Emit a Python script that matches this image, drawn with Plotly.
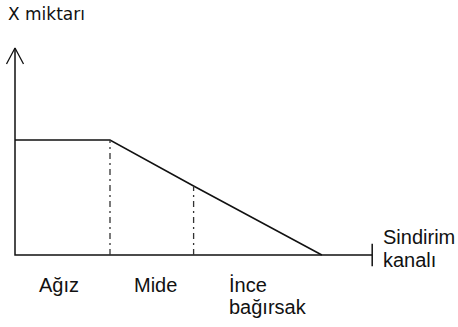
import plotly.graph_objects as go

# canal positions (segment units) and relative amount of substance X
stage_bounds = [0, 1, 1.88, 3.23]
x_amount = [100, 100, 60, 0]
stage_labels = ["Ağız", "Mide", "İnce<br>bağırsak"]
axis_x_end = 3.76
axis_y_end = 180

W, H = 458, 327
PX_X = 95.0     # pixels per canal unit
PX_Y = 1.15     # pixels per amount unit
ORIGIN = (15, 255)

x_rng = [-ORIGIN[0] / PX_X, (W - ORIGIN[0]) / PX_X]
y_rng = [-(H - ORIGIN[1]) / PX_Y, ORIGIN[1] / PX_Y]

ink = "#111111"
font_lbl = dict(family="Liberation Sans, Arial", size=20, color=ink)

fig = go.Figure()

# axes
fig.add_trace(go.Scatter(x=[0, 0, axis_x_end], y=[axis_y_end, 0, 0], mode="lines",
                         line=dict(color=ink, width=1.5), hoverinfo="skip"))
# open arrow head on y axis
aw, ah = 8.5 / PX_X, 16 / PX_Y
fig.add_trace(go.Scatter(x=[-aw, 0, aw], y=[axis_y_end - ah, axis_y_end, axis_y_end - ah],
                         mode="lines", line=dict(color=ink, width=1.3), hoverinfo="skip"))
# end tick on x axis
fig.add_trace(go.Scatter(x=[axis_x_end], y=[0], mode="markers",
                         marker=dict(symbol="line-ns-open", size=16, color=ink,
                                     line=dict(color=ink, width=1.5)), hoverinfo="skip"))

# amount curve
fig.add_trace(go.Scatter(x=stage_bounds, y=x_amount, mode="lines",
                         line=dict(color=ink, width=1.5), hoverinfo="skip"))

# dash-dot separators at stage boundaries
for bx, by in zip(stage_bounds[1:3], x_amount[1:3]):
    fig.add_trace(go.Scatter(x=[bx, bx], y=[0, by], mode="lines",
                             line=dict(color="#333333", width=1.3, dash="6px,4px,2px,4px"),
                             hoverinfo="skip"))

annotations = []
# stage labels
mids = [(stage_bounds[0] + stage_bounds[1]) / 2 - 0.04,
        (stage_bounds[1] + stage_bounds[2]) / 2 + 0.04]
for m, lab in zip(mids, stage_labels[:2]):
    annotations.append(dict(x=m, y=-26, text=lab, showarrow=False,
                            xanchor="center", yanchor="middle", font=font_lbl))
ince, bag = stage_labels[2].split("<br>")
annotations.append(dict(x=2.23, y=-26, text=ince, showarrow=False,
                        xanchor="left", yanchor="middle", font=font_lbl))
annotations.append(dict(x=2.23, y=-45, text=bag, showarrow=False,
                        xanchor="left", yanchor="middle", font=font_lbl))
# axis titles
annotations.append(dict(x=3.85, y=16, text="Sindirim", showarrow=False,
                        xanchor="left", yanchor="middle", font=font_lbl))
annotations.append(dict(x=3.85, y=-4, text="kanalı", showarrow=False,
                        xanchor="left", yanchor="middle", font=font_lbl))
annotations.append(dict(x=-0.1, y=210, text="X miktarı", showarrow=False,
                        xanchor="left", yanchor="middle",
                        font=dict(family="DejaVu Sans", size=17, color=ink)))

fig.update_layout(
    width=W, height=H,
    margin=dict(l=0, r=0, t=0, b=0),
    paper_bgcolor="white", plot_bgcolor="white",
    showlegend=False,
    xaxis=dict(range=x_rng, visible=False, fixedrange=True),
    yaxis=dict(range=y_rng, visible=False, fixedrange=True),
    annotations=annotations,
)

fig.write_html("out.html", config={"displayModeBar": False},
               post_script="document.body.style.margin='0';")
